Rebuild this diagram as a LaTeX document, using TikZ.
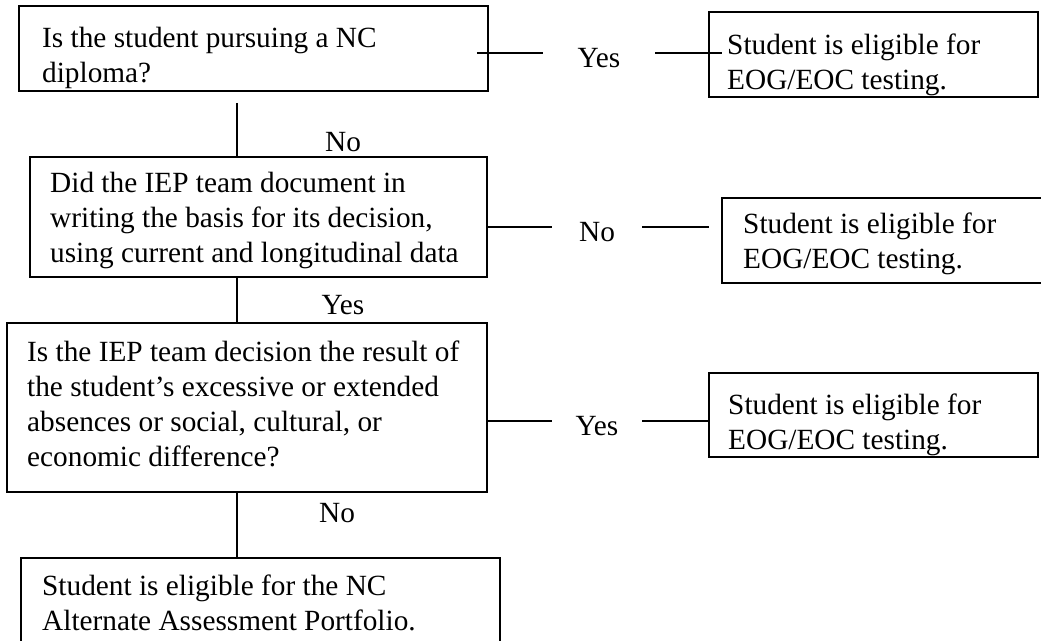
\documentclass[tikz,border=0pt]{standalone}
\usepackage{fontspec}
\setmainfont{Liberation Serif}
\begin{document}
\begin{tikzpicture}[x=1pt,y=1pt,
  box/.style={draw, line width=1.5pt, inner sep=0pt},
  conn/.style={line width=1.2pt},
  txt/.style={anchor=base west, inner sep=0pt, font=\fontsize{29.3}{35}\selectfont},
  lbl/.style={inner sep=0pt, font=\fontsize{29.3}{35}\selectfont},
  hlbl/.style={inner sep=0pt, text height=28pt, text depth=0pt, font=\fontsize{29.3}{35}\selectfont}]
\clip (0,0) rectangle (1041,-640);
\useasboundingbox (0,0) rectangle (1041,-640);
% boxes
\node[box, minimum width=469pt, minimum height=85pt] (b1) at (253.5,-48.5) {};
\node[box, minimum width=329pt, minimum height=85pt] (b2) at (873.5,-54.5) {};
\node[box, minimum width=457pt, minimum height=120pt] (b3) at (258.5,-217) {};
\node[box, minimum width=328pt, minimum height=85pt] (b4) at (886,-240.5) {};
\node[box, minimum width=480pt, minimum height=169pt] (b5) at (247,-407.5) {};
\node[box, minimum width=329pt, minimum height=84pt] (b6) at (873.5,-415) {};
\node[box, minimum width=479pt, minimum height=102pt] (b7) at (260.5,-609) {};
% texts
\begin{scope}
\clip (b1.north west) rectangle (b1.south east);
\node[txt] (t1) at (42,-47) {\parbox[t]{440pt}{\raggedright Is the student pursuing a NC\\diploma?}};
\end{scope}
\begin{scope}
\clip (b2.north west) rectangle (b2.south east);
\node[txt] (t2) at (727,-54) {\parbox[t]{300pt}{\raggedright Student is eligible for\\EOG/EOC testing.}};
\end{scope}
\begin{scope}
\clip (b3.north west) rectangle (b3.south east);
\node[txt] (t3) at (50,-192) {\parbox[t]{440pt}{\raggedright Did the IEP team document in\\writing the basis for its decision,\\using current and longitudinal data}};
\end{scope}
\begin{scope}
\clip (b4.north west) rectangle (b4.south east);
\node[txt] (t4) at (743,-233) {\parbox[t]{300pt}{\raggedright Student is eligible for\\EOG/EOC testing.}};
\end{scope}
\begin{scope}
\clip (b5.north west) rectangle (b5.south east);
\node[txt] (t5) at (27,-361) {\parbox[t]{470pt}{\raggedright Is the IEP team decision the result of\\the student’s excessive or extended\\absences or social, cultural, or\\economic difference?}};
\end{scope}
\begin{scope}
\clip (b6.north west) rectangle (b6.south east);
\node[txt] (t6) at (728,-414) {\parbox[t]{300pt}{\raggedright Student is eligible for\\EOG/EOC testing.}};
\end{scope}
\begin{scope}
\clip (b7.north west) rectangle (b7.south east);
\node[txt] (t7) at (42,-595) {\parbox[t]{450pt}{\raggedright Student is eligible for the NC\\Alternate Assessment Portfolio.}};
\end{scope}
% horizontal labels and connectors
\node[hlbl, minimum width=112pt] (yes1) at (599,-53) {Yes};
\node[hlbl, minimum width=90pt] (no2) at (597,-227) {No};
\node[hlbl, minimum width=90pt] (yes3) at (597,-421) {Yes};
\draw[conn, shorten <=-12pt] (b1.east |- yes1) -- (yes1.west);
\draw[conn, shorten >=-14pt] (yes1.east) -- (b2.west |- yes1);
\draw[conn] (b3.east |- no2) -- (no2.west);
\draw[conn, shorten >=12pt] (no2.east) -- (b4.west |- no2);
\draw[conn] (b5.east |- yes3) -- (yes3.west);
\draw[conn] (yes3.east) -- (b6.west |- yes3);
% vertical connectors
\coordinate (vx) at (237,0);
\draw[conn] ([yshift=-11pt]b1.south -| vx) -- (b3.north -| vx);
\draw[conn] (b3.south -| vx) -- (b5.north -| vx);
\draw[conn] (b5.south -| vx) -- (b7.north -| vx);
\node[lbl] (no1) at (343,-142) {No};
\node[lbl] (yes2) at (343,-305) {Yes};
\node[lbl] (no3) at (337,-513) {No};
\end{tikzpicture}
\end{document}
